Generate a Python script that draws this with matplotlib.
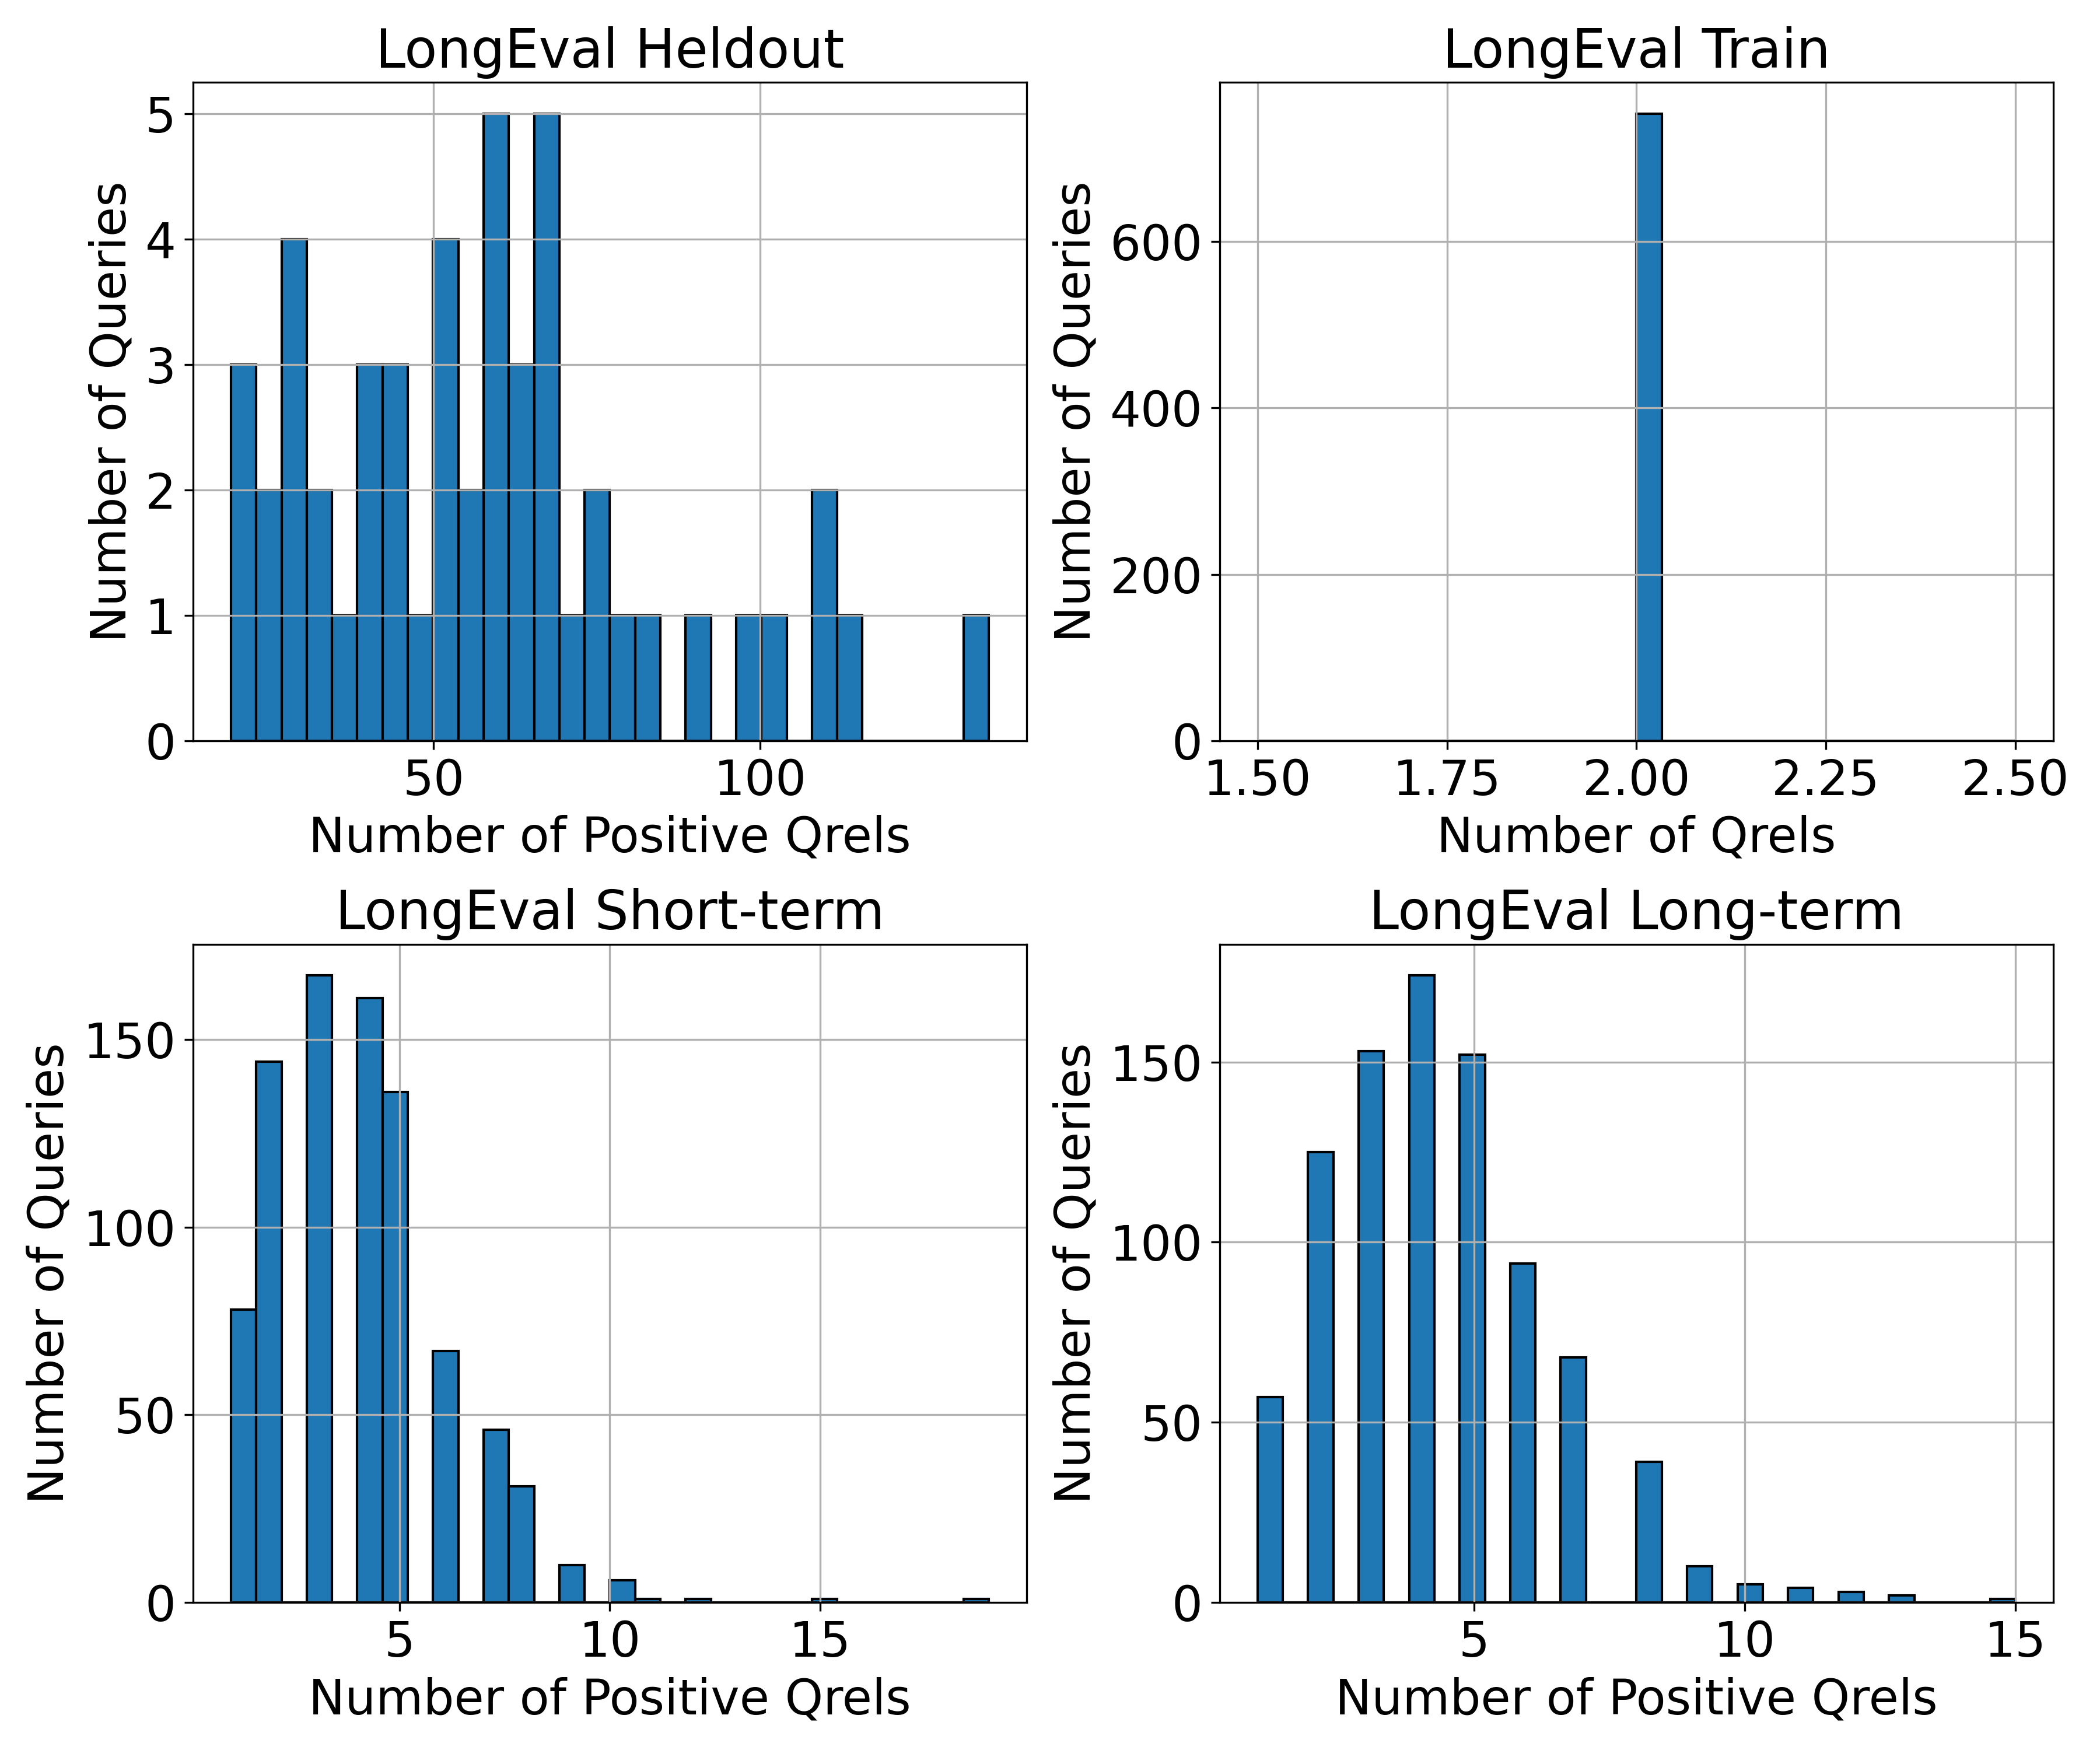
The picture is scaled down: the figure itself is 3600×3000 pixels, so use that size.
import numpy as np
import matplotlib
matplotlib.use("Agg")
import matplotlib.pyplot as plt

# counts per bin (30 bins each)
heldout_range = (19, 135)
heldout_counts = [3, 2, 4, 2, 1, 3, 3, 1, 4, 2, 5, 3, 5, 1, 2,
                  1, 1, 0, 1, 0, 1, 1, 0, 2, 1, 0, 0, 0, 0, 1]

train_range = (1.5, 2.5)
train_counts = [0] * 15 + [754] + [0] * 14

short_range = (1, 19)
short_counts = [78, 144, 0, 167, 0, 161, 136, 0, 67, 0, 46, 31, 0, 10, 0,
                6, 1, 0, 1, 0, 0, 0, 0, 1, 0, 0, 0, 0, 0, 1]

long_range = (1, 15)
long_counts = [57, 0, 125, 0, 153, 0, 174, 0, 152, 0, 94, 0, 68, 0, 0,
               39, 0, 10, 0, 5, 0, 4, 0, 3, 0, 2, 0, 0, 0, 1]

panels = [
    ("LongEval Heldout", "Number of Positive Qrels", heldout_range, heldout_counts),
    ("LongEval Train", "Number of Qrels", train_range, train_counts),
    ("LongEval Short-term", "Number of Positive Qrels", short_range, short_counts),
    ("LongEval Long-term", "Number of Positive Qrels", long_range, long_counts),
]

fig, axes = plt.subplots(2, 2, figsize=(12, 10), dpi=300)

for ax, (title, xlabel, rng, counts) in zip(axes.flat, panels):
    edges = np.linspace(rng[0], rng[1], len(counts) + 1)
    ax.hist(edges[:-1], bins=edges, weights=counts, color='#1f77b4', edgecolor='black')
    ax.grid(True)
    ax.set_title(title, fontsize=22)
    ax.set_xlabel(xlabel, fontsize=20)
    ax.set_ylabel("Number of Queries", fontsize=20)
    ax.tick_params(labelsize=20)

plt.tight_layout()
plt.savefig("out.png")
